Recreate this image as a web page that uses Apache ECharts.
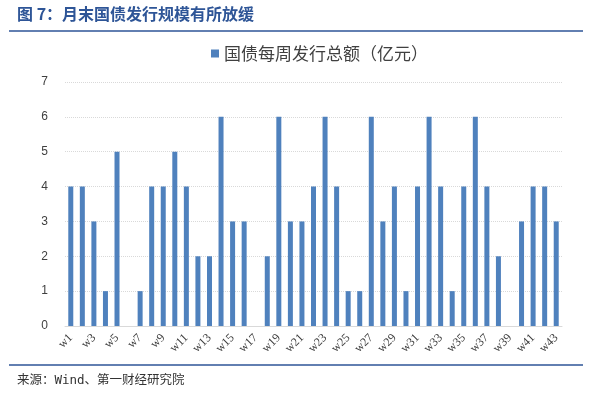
<!DOCTYPE html>
<html>
<head>
<meta charset="utf-8">
<script src="https://cdn.jsdelivr.net/npm/echarts@6/dist/echarts.min.js"></script>
<style>
  html, body { margin: 0; padding: 0; background: #fff; }
  #chart { width: 592px; height: 399px; }
</style>
</head>
<body>
<div id="chart"></div>
<script>
// weekly categories w1..w43
const weeks = ["w1","w2","w3","w4","w5","w6","w7","w8","w9","w10",
    "w11","w12","w13","w14","w15","w16","w17","w18","w19","w20",
    "w21","w22","w23","w24","w25","w26","w27","w28","w29","w30",
    "w31","w32","w33","w34","w35","w36","w37","w38","w39","w40",
    "w41","w42","w43"];
const issuance = [4,4,3,1,5,0,1,4,4,5,
    4,2,2,6,3,3,0,2,6,3,
    3,4,6,4,1,1,6,3,4,1,
    4,6,4,1,4,6,4,2,0,3,
    4,4,3];
const seriesName = "国债每周发行总额（亿元）";
const titleText = "图 7：月末国债发行规模有所放缓";
const sourceText = "来源：Wind、第一财经研究院";

const chart = echarts.init(document.getElementById("chart"));

chart.setOption({
    animation: false,
    graphic: [
        { type: "text", left: 17, top: 6,
          style: { text: titleText, fill: "#2E5597", font: "bold 16px 'Noto Sans CJK SC'" } },
        { type: "line", shape: { x1: 9, y1: 31, x2: 583, y2: 31 },
          style: { stroke: "#2E5597", lineWidth: 1.5 } },
        { type: "line", shape: { x1: 9, y1: 365, x2: 583, y2: 365 },
          style: { stroke: "#2E5597", lineWidth: 1.5 } },
        { type: "text", left: 17, top: 374,
          style: { text: sourceText, fill: "#333", font: "12.5px 'DejaVu Sans Mono', 'Noto Sans CJK SC'" } }
    ],
    legend: {
        top: 40,
        left: 206,
        itemWidth: 8,
        itemHeight: 8,
        itemGap: 4,
        icon: "rect",
        textStyle: { fontSize: 17, color: "#404040", fontFamily: "Noto Sans CJK SC" }
    },
    grid: { left: 65, right: 30, top: 82, bottom: 73 },
    xAxis: {
        type: "category",
        data: weeks,
        axisLine: { lineStyle: { color: "#d9d9d9" } },
        axisTick: { show: false },
        axisLabel: {
            interval: 1,
            rotate: 45,
            fontSize: 12,
            color: "#404040",
            fontFamily: "Liberation Serif",
            margin: 10
        }
    },
    yAxis: {
        type: "value",
        min: 0,
        max: 7,
        interval: 1,
        axisLine: { show: false },
        axisTick: { show: false },
        axisLabel: { fontSize: 12, color: "#404040", margin: 17, fontFamily: "Liberation Sans" },
        splitLine: { lineStyle: { color: "#d9d9d9", type: "dotted" } }
    },
    series: [{
        name: seriesName,
        type: "bar",
        data: issuance,
        barWidth: 5,
        itemStyle: { color: "#4F81BD" }
    }]
});
</script>
</body>
</html>
